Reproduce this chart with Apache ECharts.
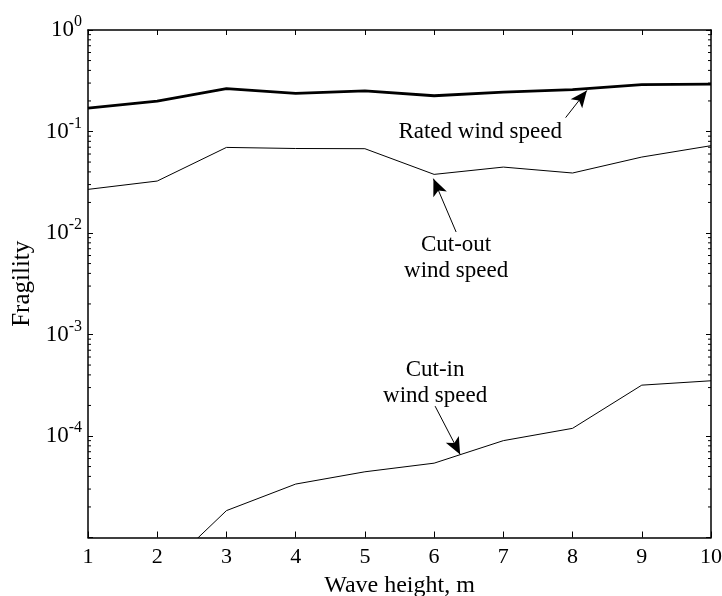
<!DOCTYPE html>
<html>
<head>
<meta charset="utf-8">
<script src="https://cdn.jsdelivr.net/npm/echarts@6/dist/echarts.min.js"></script>
<style>
  html, body { margin: 0; padding: 0; background: #fff; }
  #chart { width: 722px; height: 596px; }
</style>
</head>
<body>
<div id="chart"></div>
<script>
// Wave heights (m) on the x axis
const waveHeights = [1, 2, 3, 4, 5, 6, 7, 8, 9, 10];

// Fragility for the three operating conditions
const ratedWind = [0.170, 0.199, 0.265, 0.237, 0.251, 0.225, 0.244, 0.258, 0.289, 0.293];
const cutOutWind = [0.0269, 0.0325, 0.0697, 0.068, 0.0677, 0.0378, 0.0446, 0.039, 0.056, 0.0725];
const cutInWind = [null, 4.1e-6, 1.84e-5, 3.36e-5, 4.44e-5, 5.4e-5, 9.0e-5, 1.19e-4, 3.17e-4, 3.5e-4];

// Decade range of the log axis and its minor ticks (2..9 within each decade)
const yMin = 1e-5;
const yMax = 1;
const minorTicks = [];
for (let e = -5; e < 0; e++) {
  for (let m = 2; m <= 9; m++) minorTicks.push(m * Math.pow(10, e));
}

// Annotation texts and arrows, in data coordinates
const notes = [
  { text: 'Rated wind speed', at: [6.665, 0.0986] },
  { text: 'Cut-out\nwind speed', at: [6.318, 0.0057] },
  { text: 'Cut-in\nwind speed', at: [6.014, 3.36e-4] }
];
const arrows = [
  { from: [7.90, 0.137], to: [8.207, 0.254] },
  { from: [6.318, 0.01023], to: [5.99, 0.0343] },
  { from: [6.014, 1.97e-4], to: [6.376, 6.59e-5] }
];

const FONT = 'Liberation Serif';

const pairs = (ys) => waveHeights.map((x, i) => [x, ys[i]]);

const chart = echarts.init(document.getElementById('chart'), null, { renderer: 'canvas' });

const commonLine = {
  type: 'line',
  showSymbol: false,
  symbol: 'none',
  silent: true,
  clip: true,
  animation: false
};

const option = {
  animation: false,
  backgroundColor: '#fff',
  grid: {
    left: 88, right: 11, top: 30, bottom: 58.5,
    containLabel: false, outerBoundsMode: 'none'
  },
  xAxis: [
    {
      type: 'value', min: 1, max: 10, interval: 1, position: 'bottom',
      name: 'Wave height, m', nameLocation: 'middle', nameGap: 23,
      nameTextStyle: { fontFamily: FONT, fontSize: 24, color: '#000' },
      axisLine: { show: true, lineStyle: { color: '#000', width: 1.5 } },
      axisTick: { show: true, inside: true, length: 6, lineStyle: { color: '#000', width: 1 } },
      axisLabel: { show: true, margin: 9, fontFamily: FONT, fontSize: 22, color: '#000' },
      splitLine: { show: false }
    },
    {
      type: 'value', min: 1, max: 10, interval: 1, position: 'top',
      axisLine: { show: true, lineStyle: { color: '#000', width: 1.5 } },
      axisTick: { show: true, inside: true, length: 5, lineStyle: { color: '#000', width: 1 } },
      axisLabel: { show: false },
      splitLine: { show: false }
    }
  ],
  yAxis: [
    {
      type: 'log', logBase: 10, min: yMin, max: yMax, interval: 1, position: 'left',
      name: 'Fragility', nameLocation: 'middle', nameGap: 50, nameRotate: 90,
      nameTextStyle: { fontFamily: FONT, fontSize: 25, color: '#000' },
      axisLine: { show: true, lineStyle: { color: '#000', width: 1.5 } },
      axisTick: { show: true, inside: true, length: 5, lineStyle: { color: '#000', width: 1 } },
      axisLabel: {
        show: true, margin: 6,
        formatter: function (v) {
          const e = Math.round(Math.log10(v));
          if (e === -5) return '';
          return '{b|10}{s|' + e + '}';
        },
        rich: {
          b: { fontFamily: FONT, fontSize: 23, color: '#000' },
          s: { fontFamily: FONT, fontSize: 16, color: '#000', padding: [0, 0, 16, 0] }
        }
      },
      splitLine: { show: false }
    },
    {
      type: 'log', logBase: 10, min: yMin, max: yMax, interval: 1, position: 'right',
      axisLine: { show: true, lineStyle: { color: '#000', width: 1.5 } },
      axisTick: { show: true, inside: true, length: 5, lineStyle: { color: '#000', width: 1 } },
      axisLabel: { show: false },
      splitLine: { show: false }
    }
  ],
  series: [
    Object.assign({}, commonLine, {
      name: 'Rated wind speed',
      data: pairs(ratedWind),
      lineStyle: { color: '#000', width: 2.8 },
      markLine: {
        silent: true, animation: false,
        symbol: ['none', 'arrow'], symbolSize: [11, 17],
        label: { show: false },
        lineStyle: { color: '#000', width: 1, type: 'solid' },
        data: arrows.map(a => [{ coord: a.from }, { coord: a.to }])
      },
      markPoint: {
        silent: true, animation: false,
        symbol: 'circle', symbolSize: 0,
        label: {
          show: true, position: 'inside', fontFamily: FONT, fontSize: 23,
          color: '#000', lineHeight: 26, align: 'center', verticalAlign: 'middle',
          formatter: p => p.data.text
        },
        data: notes.map(n => ({ coord: n.at, text: n.text, value: 0 }))
      }
    }),
    Object.assign({}, commonLine, {
      name: 'Cut-out wind speed',
      data: pairs(cutOutWind),
      lineStyle: { color: '#000', width: 1 }
    }),
    Object.assign({}, commonLine, {
      name: 'Cut-in wind speed',
      data: pairs(cutInWind),
      connectNulls: false,
      lineStyle: { color: '#000', width: 1 }
    }),
    {
      // minor log ticks on the left and right frame edges
      type: 'custom',
      silent: true,
      animation: false,
      clip: false,
      data: minorTicks.map(v => [1, v]),
      renderItem: function (params, api) {
        const v = api.value(1);
        const pl = api.coord([1, v]);
        const pr = api.coord([10, v]);
        const s = { stroke: '#000', lineWidth: 1 };
        return {
          type: 'group',
          children: [
            { type: 'line', shape: { x1: pl[0], y1: pl[1], x2: pl[0] + 3, y2: pl[1] }, style: s },
            { type: 'line', shape: { x1: pr[0] - 3, y1: pr[1], x2: pr[0], y2: pr[1] }, style: s }
          ]
        };
      }
    }
  ]
};

chart.setOption(option);
</script>
</body>
</html>
